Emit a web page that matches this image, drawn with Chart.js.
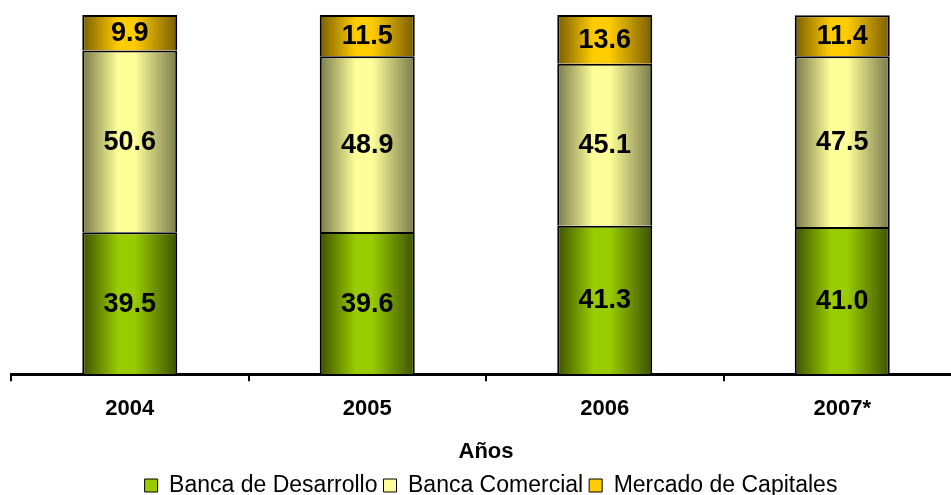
<!DOCTYPE html>
<html>
<head>
<meta charset="utf-8">
<script src="https://cdn.jsdelivr.net/npm/chart.js"></script>
<style>
  html, body { margin: 0; padding: 0; background: #fff; overflow: hidden; }
  canvas { display: block; }
</style>
</head>
<body>
<canvas id="myChart" width="972" height="507"></canvas>
<script>
const years = ['2004', '2005', '2006', '2007*'];
const desarrollo = [39.5, 39.6, 41.3, 41.0];
const comercial = [50.6, 48.9, 45.1, 47.5];
const capitales = [9.9, 11.5, 13.6, 11.4];

const FONT = "'Liberation Sans', Arial, sans-serif";
const BAR_PCT = 0.4;

// dark edges, bright middle, like the original cylinder-ish bars
function shaded(dark, light, solid) {
  return (c) => {
    const chart = c.chart;
    const xs = chart.scales.x;
    if (!chart.chartArea || !xs) return solid;
    const cx = xs.getPixelForValue(c.dataIndex);
    const half = xs.width / years.length * BAR_PCT / 2;
    const g = chart.ctx.createLinearGradient(cx - half, 0, cx + half, 0);
    g.addColorStop(0, dark);
    g.addColorStop(0.38, light);
    g.addColorStop(0.55, light);
    g.addColorStop(1, dark);
    return g;
  };
}

const valueLabels = {
  id: 'valueLabels',
  afterDatasetsDraw(chart) {
    const ctx = chart.ctx;
    ctx.save();
    ctx.fillStyle = '#000';
    ctx.font = 'bold 27px ' + FONT;
    ctx.textAlign = 'center';
    ctx.textBaseline = 'middle';
    chart.data.datasets.forEach((ds, i) => {
      chart.getDatasetMeta(i).data.forEach((el, j) => {
        ctx.fillText(ds.data[j].toFixed(1), el.x, (el.y + el.base) / 2 + 1);
      });
    });
    ctx.restore();
  }
};

const ctx = document.getElementById('myChart');
const legendColors = ['#99cc00', '#ffff99', '#ffcc00'];

new Chart(ctx, {
  type: 'bar',
  data: {
    labels: years,
    datasets: [
      { label: 'Banca de Desarrollo', data: desarrollo,
        backgroundColor: shaded('#3d5200', '#99cc00', '#99cc00') },
      { label: 'Banca Comercial', data: comercial,
        backgroundColor: shaded('#7a7a4c', '#ffff99', '#ffff99') },
      { label: 'Mercado de Capitales', data: capitales,
        backgroundColor: shaded('#7a5e00', '#ffcc00', '#ffcc00') }
    ].map(d => Object.assign(d, {
      borderColor: '#000', borderWidth: 2,
      barPercentage: BAR_PCT, categoryPercentage: 1
    }))
  },
  options: {
    responsive: false,
    animation: false,
    devicePixelRatio: 1,
    layout: { padding: { left: 11, right: 1, top: 15, bottom: 0 } },
    plugins: {
      tooltip: { enabled: false },
      legend: {
        position: 'bottom',
        labels: {
          color: '#000',
          font: { family: FONT, size: 23 },
          boxWidth: 13, boxHeight: 13,
          padding: 6,
          generateLabels: (chart) => chart.data.datasets.map((d, i) => ({
            text: d.label, fillStyle: legendColors[i], strokeStyle: '#000',
            lineWidth: 1, datasetIndex: i, hidden: false, fontColor: '#000'
          }))
        }
      }
    },
    scales: {
      x: {
        stacked: true,
        grid: { drawOnChartArea: false, drawTicks: true, tickLength: 7,
                color: '#000', lineWidth: 2, offset: true },
        border: { color: '#000', width: 3 },
        ticks: { color: '#000', padding: 15, font: { family: FONT, size: 22, weight: 'bold' } },
        title: { display: true, text: 'Años', color: '#000', padding: { top: 1, bottom: 3 },
                 font: { family: FONT, size: 22, weight: 'bold' } }
      },
      y: {
        stacked: true, min: 0, max: 100, position: 'right',
        ticks: { display: false }, grid: { display: false }, border: { display: false },
        afterFit: (s) => { s.width = 10; }
      }
    }
  },
  plugins: [valueLabels]
});
</script>
</body>
</html>
